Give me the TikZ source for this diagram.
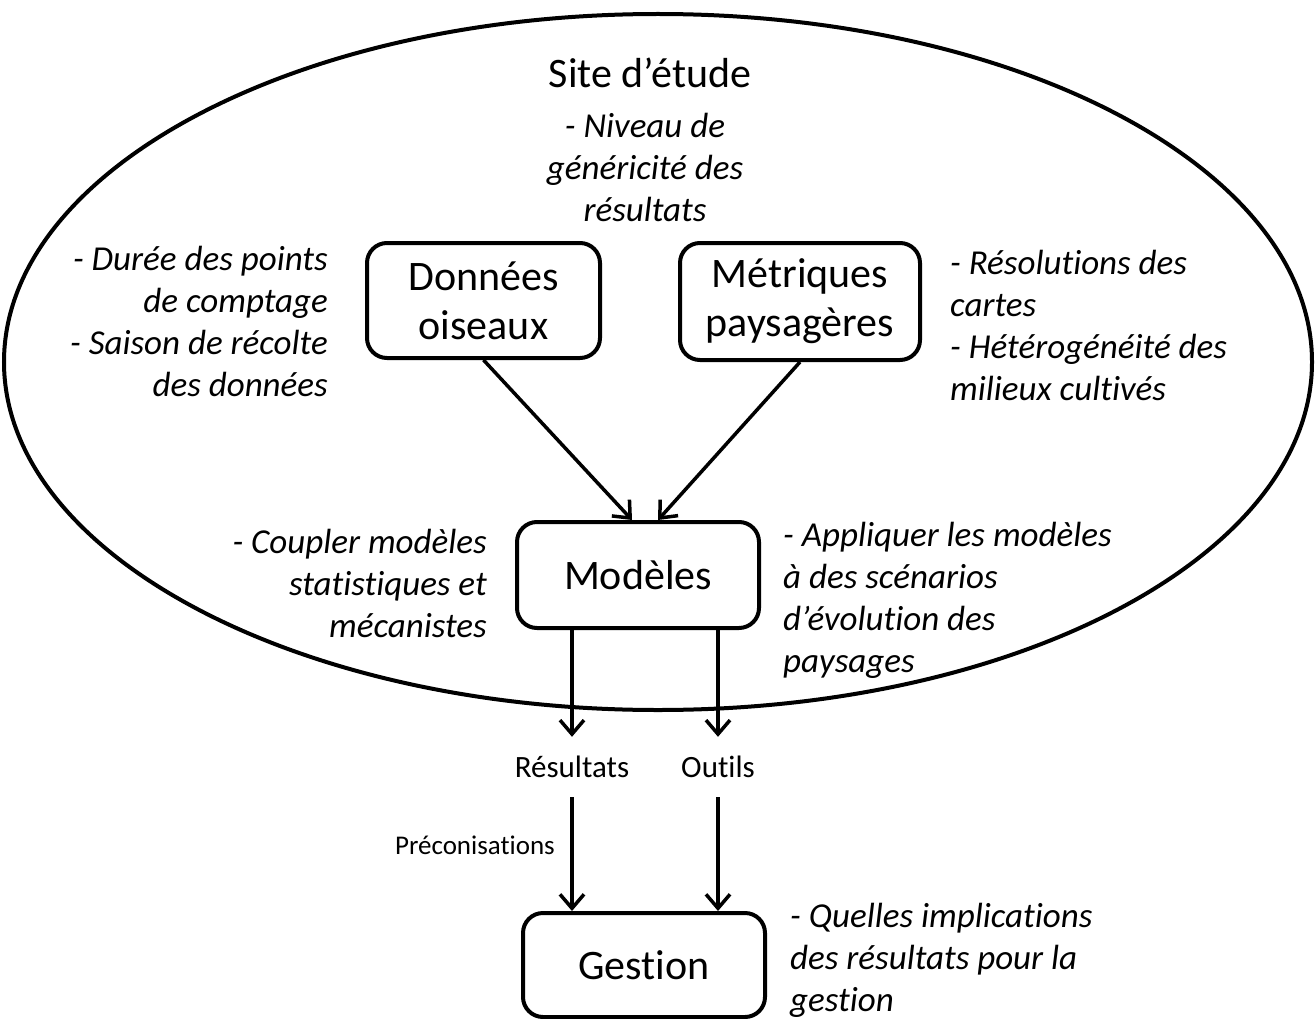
\documentclass[tikz,border=0pt]{standalone}
\usepackage{fontspec}
\setmainfont{Carlito}[Ligatures={NoCommon}]
\usetikzlibrary{arrows.meta,calc}
\begin{document}
\begin{tikzpicture}[x=1pt,y=-1pt,
  box/.style={draw,line width=4pt,rounded corners=20pt,align=center,
    font=\fontsize{42}{49}\selectfont,inner sep=0pt},
  note/.style={font=\fontsize{35}{42}\selectfont\itshape,inner sep=0pt},
  lab/.style={font=\fontsize{31}{36}\selectfont,inner sep=0pt,minimum height=60pt},
  arr/.style={line width=3.5pt,
    -{Straight Barb[length=14pt,width=24pt,line width=3.5pt]}}]
\useasboundingbox (0,0) rectangle (1316,1019);
\fill[white] (0,0) rectangle (1316,1019);

% study site
\draw[line width=4pt] (658,362) ellipse [x radius=654, y radius=348];
\node[font=\fontsize{42}{49}\selectfont,inner sep=0pt] (site) at (650,73) {Site d’étude};
\node[note,align=center] (gen) at (645,167) {- Niveau de\\généricité des\\résultats};

% boxes
\node[box,minimum width=233pt,minimum height=115pt] (d) at (483.5,300.5) {Données\\oiseaux};
\node[box,minimum width=240pt,minimum height=117pt] (p) at (800,301.5) {Métriques\\paysagères};
\node[box,minimum width=242pt,minimum height=106pt] (m) at (638,575) {Modèles};
\node[box,minimum width=242pt,minimum height=104pt] (g) at (644,965) {Gestion};

% side notes
\node[note,align=right,anchor=east] (nd) at (328,321)
  {- Durée des points\\de comptage\\- Saison de récolte\\des données};
\node[note,align=left,anchor=west] (np) at (950,325)
  {- Résolutions des\\cartes\\- Hétérogénéité des\\milieux cultivés};
\node[note,align=right,anchor=east] (nm) at (487,583)
  {- Coupler modèles\\statistiques et\\mécanistes};
\node[note,align=left,anchor=west] (ns) at (783,600)
  {- Appliquer les modèles\\à des scénarios\\d’évolution des\\paysages};
\node[note,align=left,anchor=west] (ng) at (790,960)
  {- Quelles implications\\des résultats pour la\\gestion};

% outputs
\node[lab] (res) at (572,767) {Résultats};
\node[lab] (out) at (718,767) {Outils};
\node[font=\fontsize{27}{32}\selectfont,inner sep=0pt,anchor=east] (pre) at (555,845) {Préconisations};

% connectors
\draw[arr] (d.south) -- ($(m.north)+(-6,0)$);
\draw[arr] (p.south) -- ($(m.north)+(20,0)$);
\draw[arr] (m.south -| res) -- (res.north);
\draw[arr] (m.south -| out) -- (out.north);
\draw[arr] (res.south) -- (res.south |- g.north);
\draw[arr] (out.south) -- (out.south |- g.north);
\end{tikzpicture}
\end{document}
